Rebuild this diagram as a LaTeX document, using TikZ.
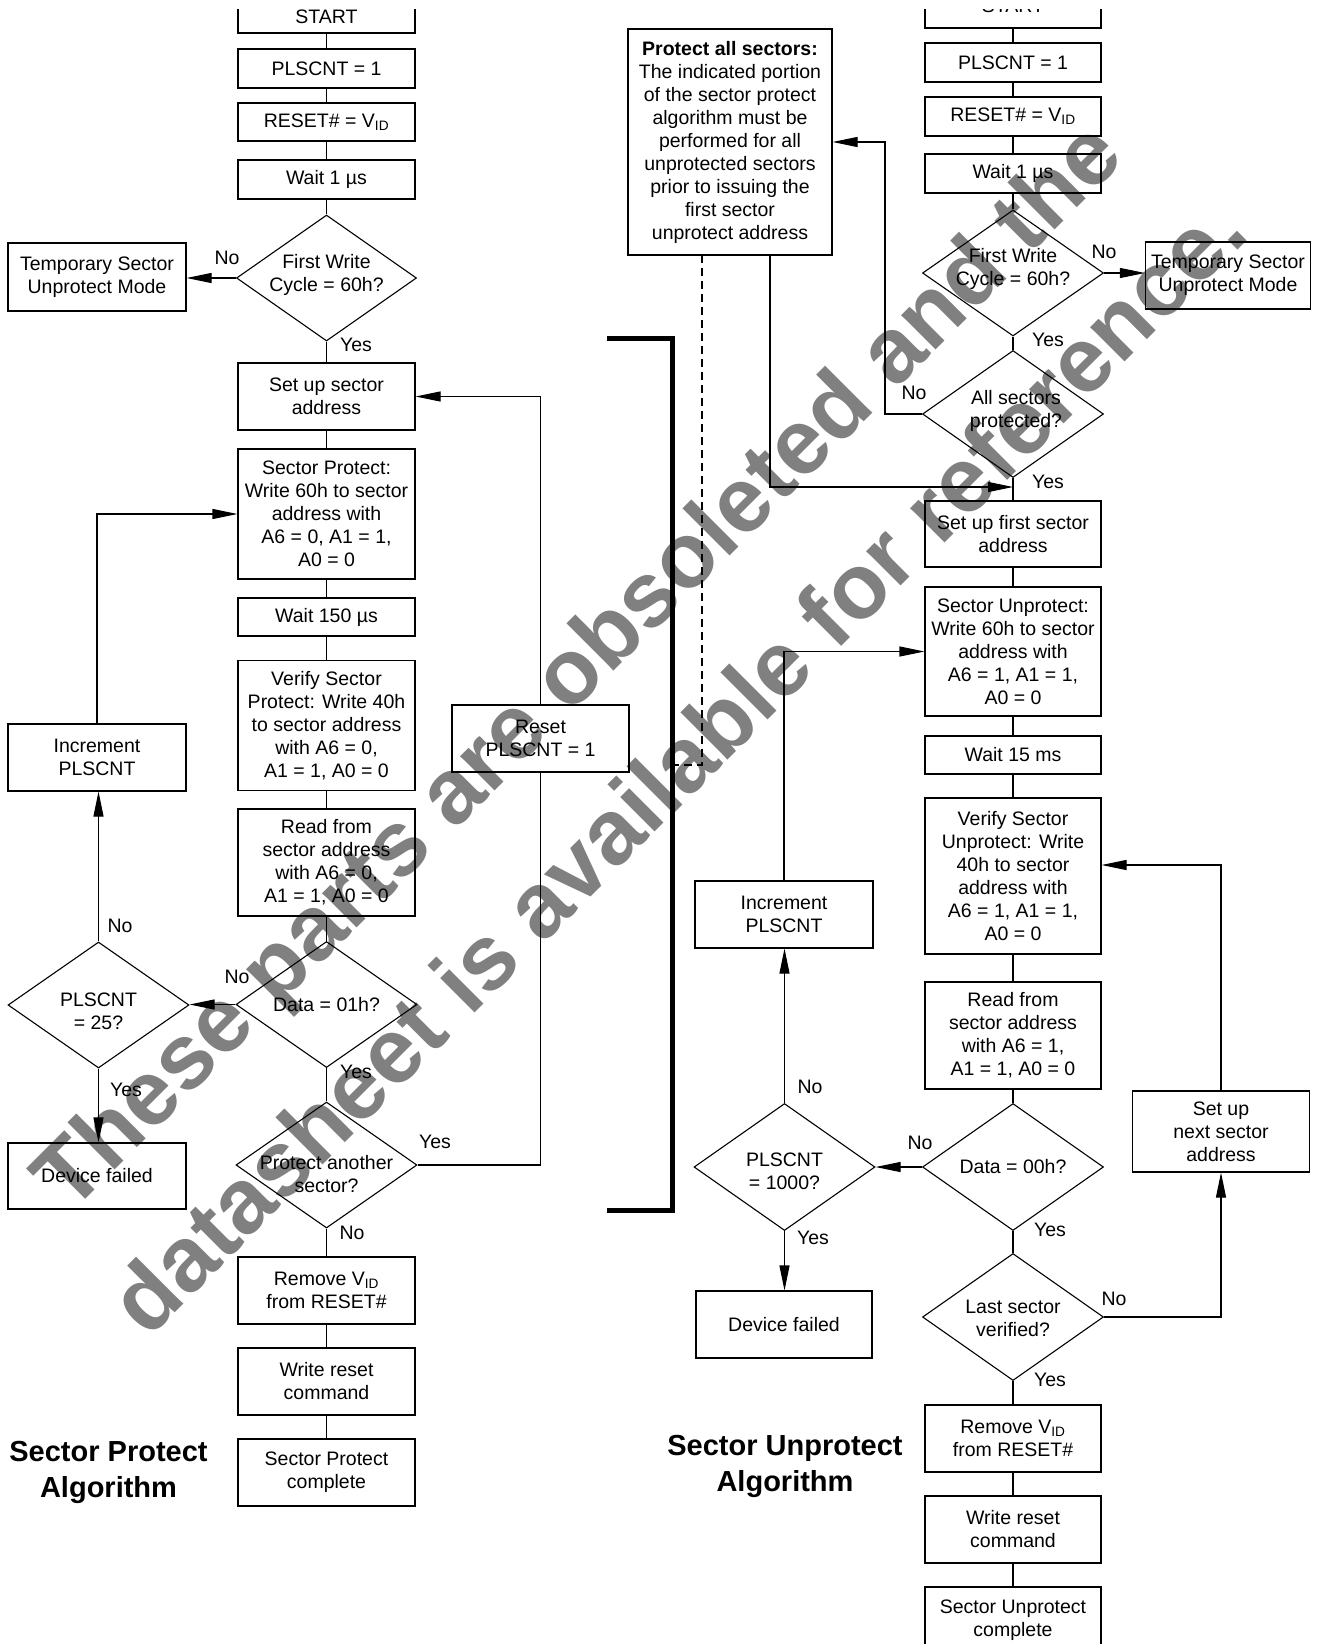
\documentclass[tikz,border=0pt]{standalone}
\usepackage{fontspec}
\setmainfont{Liberation Sans}
\usetikzlibrary{shapes.geometric,arrows.meta}
\definecolor{wmgray}{RGB}{128,128,128}
\begin{document}
\begin{tikzpicture}[x=1pt,y=-1pt,
  every node/.style={inner sep=0pt, font=\fontsize{19.5}{23}\selectfont},
  box/.style={draw, line width=1.1pt, minimum width=177pt, align=center},
  rbox/.style={box, minimum width=176pt},
  dia/.style={draw, diamond, line width=1.1pt, minimum width=181pt, minimum height=126pt},
  txt/.style={align=center},
  ln/.style={line width=1.1pt},
  arr/.style={line width=1.1pt, -{Triangle[length=25pt,width=10pt]}},
  dsh/.style={line width=1.1pt, dash pattern=on 8pt off 5pt},
  brk/.style={line width=5pt},
  ttl/.style={align=center, font=\bfseries\fontsize{29}{36}\selectfont},
  wm/.style={rotate=45, text=wmgray, align=center, font=\bfseries\fontsize{92}{143}\selectfont}
]
\fill[white] (0,0) rectangle (1317,1644);
\useasboundingbox (0,0) rectangle (1317,1644);

% watermark (behind)
\node[wm] (wmark) at (626,714) {These parts are obsoleted and the\\datasheet is available for reference.};

% ---------------- left: Sector Protect ----------------
\def\L{326.5}
\node[box, minimum height=33pt] (lstart) at (\L,16.5) {START};
\node[box, minimum height=39pt] (lpls) at (\L,68.5) {PLSCNT = 1};
\node[box, minimum height=38pt] (lreset) at (\L,122) {RESET\# = V\textsubscript{ID}};
\node[box, minimum height=39pt] (lwait) at (\L,179.5) {Wait 1 µs};
\node[dia, minimum width=180pt] (lfw) at (\L,278) {};
\node[txt] (lfwt) at (\L,275) {First Write\\Cycle = 60h?};
\node[box, minimum width=178pt, minimum height=68pt] (ltemp) at (97,277) {Temporary Sector\\Unprotect Mode};
\node[box, minimum height=67pt] (lsetup) at (\L,396.5) {Set up sector\\address};
\node[box, minimum height=130pt] (lsp) at (\L,514) {Sector Protect:\\Write 60h to sector\\address with\\A6 = 0, A1 = 1,\\A0 = 0};
\node[box, minimum height=38pt] (lw150) at (\L,617) {Wait 150 µs};
\node[box, minimum height=130pt] (lver) at (\L,725.7) {Verify Sector\\Protect: Write 40h\\to sector address\\with A6 = 0,\\A1 = 1, A0 = 0};
\node[box, minimum width=178pt, minimum height=67pt] (linc) at (97,757.5) {Increment\\PLSCNT};
\node[box, minimum height=107pt] (lread) at (\L,862.5) {Read from\\sector address\\with A6 = 0,\\A1 = 1, A0 = 0};
\node[dia] (ld01) at (\L,1004.5) {};
\node[txt] (ld01t) at (\L,1004.5) {Data = 01h?};
\node[dia] (lp25) at (98.5,1005) {};
\node[txt] (lp25t) at (98.5,1011) {PLSCNT\\= 25?};
\node[box, minimum width=178pt, minimum height=66pt] (ldev) at (97,1176) {Device failed};
\node[dia] (lpa) at (\L,1165) {};
\node[txt] (lpat) at (\L,1174) {Protect another\\sector?};
\node[box, minimum height=67pt] (lrem) at (\L,1290.5) {Remove V\textsubscript{ID}\\from RESET\#};
\node[box, minimum height=67pt] (lwr) at (\L,1381.5) {Write reset\\command};
\node[box, minimum height=67pt] (lcomp) at (\L,1472.5) {Sector Protect\\complete};
\node[box, minimum height=67pt] (lrst) at (540.5,738.5) {Reset\\PLSCNT = 1};

\draw[ln] (lstart) -- (lpls);
\draw[ln] (lpls) -- (lreset);
\draw[ln] (lreset) -- (lwait);
\draw[ln] (lwait) -- (lfw);
\draw[ln] (lfw) -- (lsetup);
\draw[ln] (lsetup) -- (lsp);
\draw[ln] (lsp) -- (lw150);
\draw[ln] (lw150) -- (lver);
\draw[ln] (lver) -- (lread);
\draw[ln] (lread) -- (ld01);
\draw[ln] (ld01) -- (lpa);
\draw[ln] (lpa) -- (lrem);
\draw[ln] (lrem) -- (lwr);
\draw[ln] (lwr) -- (lcomp);
\draw[arr] (lfw.west) -- (lfw.west -| ltemp.east);
\draw[arr] (ld01.west) -- (ld01.west -| lp25.east);
\draw[arr] (lp25.north) -- (lp25.north |- linc.south);
\draw[arr] (lp25.south) -- (lp25.south |- ldev.north);
\draw[arr] (linc.north) |- (lsp.west);
\draw[ln] (lpa.east) -| (lrst.south);
\draw[arr] (lrst.north) |- (lsetup.east);

\node (lno1) at (227,258) {No};
\node (lyes1) at (356,345) {Yes};
\node (lno2) at (120,926) {No};
\node (lno3) at (237,977) {No};
\node (lyes2) at (126,1090) {Yes};
\node (lyes3) at (356,1072) {Yes};
\node (lyes4) at (435,1142) {Yes};
\node (lno4) at (352,1233) {No};

\node[ttl] (ltitle) at (108.5,1472) {Sector Protect\\Algorithm};

% bracket and dashed link
\draw[brk] (607,338) -- (672,338) -- (672,1210) -- (607,1210);

% ---------------- right: Sector Unprotect ----------------
\def\R{1013}
\node[rbox, minimum height=44pt] (rstart) at (\R,6) {START};
\node[rbox, minimum height=39pt] (rpls) at (\R,62.5) {PLSCNT = 1};
\node[rbox, minimum height=39pt] (rreset) at (\R,116.5) {RESET\# = V\textsubscript{ID}};
\node[rbox, minimum height=39pt] (rwait) at (\R,173.5) {Wait 1 µs};
\node[dia] (rfw) at (\R,273) {};
\node[txt] (rfwt) at (\R,269) {First Write\\Cycle = 60h?};
\node[box, minimum width=165pt, minimum height=67pt] (rtemp) at (1228,275.5) {Temporary Sector\\Unprotect Mode};
\node[dia, minimum height=127pt] (rall) at (\R,414) {};
\node[txt] (rallt) at (1016,411) {All sectors\\protected?};
\node[box, minimum width=204pt, minimum height=226pt] (rprot) at (730,142) {\textbf{Protect all sectors:}\\The indicated portion\\of the sector protect\\algorithm must be\\performed for all\\unprotected sectors\\prior to issuing the\\first sector\\unprotect address};
\node[rbox, minimum height=66pt] (rsetup) at (\R,534) {Set up first sector\\address};
\node[rbox, minimum height=129pt] (rsu) at (\R,651.5) {Sector Unprotect:\\Write 60h to sector\\address with\\A6 = 1, A1 = 1,\\A0 = 0};
\node[rbox, minimum height=38pt] (rw15) at (\R,755) {Wait 15 ms};
\node[rbox, minimum height=156pt] (rver) at (\R,876) {Verify Sector\\Unprotect: Write\\40h to sector\\address with\\A6 = 1, A1 = 1,\\A0 = 0};
\node[box, minimum width=178pt, minimum height=67pt] (rinc) at (784,914.5) {Increment\\PLSCNT};
\node[rbox, minimum height=107pt] (rread) at (\R,1035.5) {Read from\\sector address\\with A6 = 1,\\A1 = 1, A0 = 0};
\node[dia, minimum height=127pt] (rdata) at (\R,1167) {};
\node[txt] (rdatat) at (\R,1167) {Data = 00h?};
\node[dia, minimum height=127pt] (rp1000) at (784.5,1167) {};
\node[txt] (rp1000t) at (784.5,1171.5) {PLSCNT\\= 1000?};
\node[rbox, minimum height=67pt] (rdev) at (784,1324.5) {Device failed};
\node[dia, minimum height=127pt] (rlast) at (\R,1317) {};
\node[txt] (rlastt) at (\R,1318.5) {Last sector\\verified?};
\node[box, minimum width=176.5pt, minimum height=81pt] (rnext) at (1221,1131.5) {Set up\\next sector\\address};
\node[rbox, minimum height=67pt] (rrem) at (\R,1438.5) {Remove V\textsubscript{ID}\\from RESET\#};
\node[rbox, minimum height=67pt] (rwr) at (\R,1529.5) {Write reset\\command};
\node[rbox, minimum height=67pt] (rcomp) at (\R,1620.5) {Sector Unprotect\\complete};

\draw[ln] (rstart) -- (rpls);
\draw[ln] (rpls) -- (rreset);
\draw[ln] (rreset) -- (rwait);
\draw[ln] (rwait) -- (rfw);
\draw[ln] (rfw) -- (rall);
\draw[ln] (rall) -- (rsetup);
\draw[ln] (rsetup) -- (rsu);
\draw[ln] (rsu) -- (rw15);
\draw[ln] (rw15) -- (rver);
\draw[ln] (rver) -- (rread);
\draw[ln] (rread) -- (rdata);
\draw[ln] (rdata) -- (rlast);
\draw[ln] (rlast) -- (rrem);
\draw[ln] (rrem) -- (rwr);
\draw[ln] (rwr) -- (rcomp);

\draw[arr] (rfw.east) -- (rfw.east -| rtemp.west);
\draw[arr] (rall.west) -- ++(-37,0) |- (rprot.east);
\coordinate (pj) at (770,487);
\draw[arr] (rprot.south -| pj) -- (pj) -- (pj -| rall.south);
\draw[arr] (rinc.north) |- (rsu.west);
\draw[arr] (rdata.west) -- (rdata.west -| rp1000.east);
\draw[arr] (rp1000.north) -- (rp1000.north |- rinc.south);
\draw[arr] (rp1000.south) -- (rp1000.south |- rdev.north);
\draw[arr] (rlast.east) -| (rnext.south);
\coordinate (vj) at (1221,865);
\draw[arr] (rnext.north) -- (vj) -- (vj -| rver.east);

\coordinate (dtop) at (702,255);
\coordinate (dbot) at (702,765);
\coordinate (dend) at (672,765);
\draw[dsh] (dtop) -- (dbot) -- (dend);

\node (rno1) at (1104,252) {No};
\node (ryes1) at (1048,340) {Yes};
\node (rno2) at (914,393) {No};
\node (ryes2) at (1048,482) {Yes};
\node (rno3) at (920,1143) {No};
\node (rno4) at (810,1087) {No};
\node (ryes3) at (813,1238) {Yes};
\node (ryes4) at (1050,1230) {Yes};
\node (rno5) at (1114,1299) {No};
\node (ryes5) at (1050,1380) {Yes};

\node[ttl] (rtitle) at (785,1466) {Sector Unprotect\\Algorithm};

% white band along the top edge, as in the cropped original
\fill[white] (0,0) rectangle (1317,9);
\end{tikzpicture}
\end{document}
